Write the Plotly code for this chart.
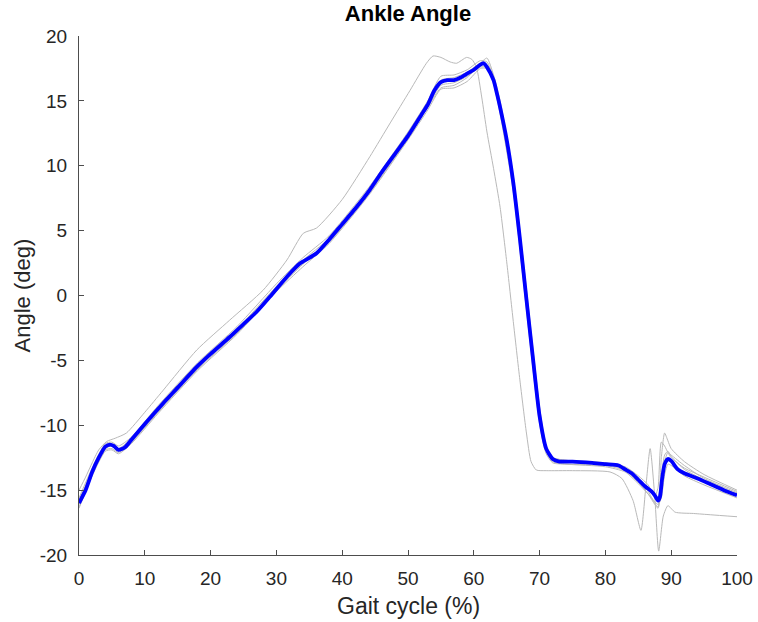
import plotly.graph_objects as go

# ---------------- data ----------------
# mean ankle angle (blue)
mean_x = [0, 1, 2, 3, 4, 4.7, 5.3, 6, 7, 8, 10, 12.8, 15, 17.9, 20, 22.9, 25, 27, 29, 31.6,
          33.6, 35, 36.1, 38, 40, 42, 44, 46, 48, 50, 52, 53, 54, 55, 56, 57, 58, 59, 60, 61,
          61.5, 62, 63, 63.5, 64, 65, 66, 67, 68, 69, 70, 71, 72, 73, 75, 78, 80, 82, 83, 84,
          85, 86, 87, 87.5, 88, 88.3, 88.6, 89, 89.5, 90, 91, 92, 94, 96, 98, 100]
mean_y = [-16.0, -15.0, -13.6, -12.5, -11.65, -11.5, -11.6, -11.9, -11.7, -11.1, -9.9, -8.3, -7.1, -5.5, -4.5, -3.2, -2.2, -1.25, -0.1, 1.45,
          2.48, 2.9, 3.25, 4.3, 5.5, 6.7, 8.0, 9.5, 10.9, 12.3, 13.9, 14.7, 15.8, 16.45, 16.6, 16.6, 16.8, 17.1, 17.4, 17.8,
          17.9, 17.6, 16.6, 15.6, 14.5, 12.0, 8.7, 4.4, -0.3, -4.9, -9.3, -11.8, -12.6, -12.8, -12.8, -12.9, -13.0, -13.1, -13.4, -13.7,
          -14.2, -14.7, -15.1, -15.4, -15.8, -15.5, -14.2, -13.0, -12.6, -12.75, -13.4, -13.7, -14.1, -14.55, -15.0, -15.4]

# early (outlier) trial
trial_a_x = [0, 1, 2, 3, 4.2, 5.5, 7.2, 10, 12.8, 17.9, 22.9, 28, 31.6, 34.1, 36.1, 40, 44.2, 47.3, 50.3, 52.8,
             53.8, 55, 56.4, 57.4, 58.9, 59.7, 60.4, 61.2, 62, 63, 64, 65, 66, 67, 68, 68.7, 69.5, 71, 75, 80.7,
             82.5, 84.2, 85.4, 86.1, 86.8, 87.5, 88.1, 88.8, 89.5, 90.6, 93.4, 96, 100]
trial_a_y = [-15.0, -14.0, -12.9, -11.9, -11.25, -11.0, -10.6, -9.0, -7.3, -4.2, -1.9, 0.42, 2.74, 4.8, 5.2, 7.4, 10.7, 13.3, 15.8, 17.9,
             18.46, 18.35, 18.0, 17.9, 18.35, 18.2, 17.6, 15.3, 12.6, 9.8, 6.8, 2.6, -2.0, -6.5, -10.6, -12.8, -13.45, -13.5, -13.5, -13.6,
             -14.1, -15.8, -18.1, -15.0, -11.8, -15.5, -19.7, -17.0, -16.2, -16.7, -16.8, -16.9, -17.05]

# other trials (close to the mean)
trials_x = [0, 2, 4, 5, 6, 8, 12, 18, 24, 30, 34, 38, 44, 50, 53, 55, 57, 59, 61, 62,
            63, 64, 66, 68, 70, 71, 72, 74, 80, 83, 85, 86.5, 87.5, 88, 88.5, 89, 89.5, 90, 92, 95, 100]
trial_b_y = [-15.6, -13.3, -11.4, -11.3, -11.6, -10.9, -8.5, -5.2, -2.4, 0.9, 2.9, 4.6, 8.3, 12.6, 15.0, 16.9, 17.0, 17.4, 18.1, 18.0,
             16.8, 14.8, 9.0, 0.1, -8.9, -11.7, -12.5, -12.7, -12.9, -13.3, -14.1, -15.1, -16.0, -16.3, -12.5, -10.6, -11.2, -11.8, -12.8, -13.8, -15.0]
trial_c_y = [-16.3, -13.8, -11.9, -11.8, -12.1, -11.3, -9.0, -5.7, -2.9, 0.4, 2.4, 4.1, 7.8, 12.1, 14.5, 16.0, 16.2, 16.8, 17.9, 18.3,
             17.0, 15.0, 9.2, 0.5, -8.6, -11.6, -12.5, -12.7, -12.9, -13.2, -13.9, -14.6, -15.5, -14.8, -11.3, -11.6, -12.1, -12.5, -13.3, -14.0, -15.1]
trial_d_y = [-16.1, -13.7, -11.8, -11.6, -12.0, -11.2, -8.9, -5.6, -2.8, 0.5, 2.5, 4.2, 7.9, 12.2, 14.6, 16.2, 16.4, 16.9, 17.6, 17.6,
             16.4, 14.2, 8.3, -0.8, -9.6, -12.0, -12.8, -13.0, -13.1, -13.5, -14.4, -15.3, -16.1, -16.4, -15.0, -12.8, -12.1, -12.3, -13.1, -14.1, -15.2]
trial_e_y = [-16.4, -13.9, -12.0, -11.9, -12.2, -11.4, -9.1, -5.8, -3.0, 0.3, 2.2, 4.0, 7.7, 12.0, 14.3, 15.9, 16.0, 16.5, 17.5, 17.5,
             16.3, 14.0, 8.0, -1.1, -9.9, -12.2, -12.9, -13.0, -13.2, -13.6, -14.5, -15.3, -15.9, -16.1, -15.6, -13.8, -13.0, -13.1, -13.9, -14.6, -15.6]
trial_f_y = [-15.8, -13.5, -11.6, -11.5, -11.8, -11.0, -8.6, -5.3, -2.6, 0.7, 2.7, 4.4, 8.1, 12.4, 14.9, 16.6, 16.8, 17.2, 17.9, 17.8,
             16.7, 14.7, 8.9, -0.1, -9.0, -11.7, -12.6, -12.8, -13.0, -13.4, -14.2, -14.8, -15.3, -15.6, -14.0, -12.3, -12.0, -12.4, -13.4, -14.2, -15.3]

x_ticks = [0, 10, 20, 30, 40, 50, 60, 70, 80, 90, 100]
y_ticks = [-20, -15, -10, -5, 0, 5, 10, 15, 20]
x_tick_text = ["0", "10", "20", "30", "40", "50", "60", "70", "80", "90", "100"]
y_tick_text = ["-20", "-15", "-10", "-5", "0", "5", "10", "15", "20"]

# ---------------- figure ----------------
GRAY = "rgb(185,185,185)"
BLUE = "rgb(0,0,255)"
FONT = "Liberation Sans, Arial, Helvetica, sans-serif"
AX = "#4d4d4d"
TXT = "#262626"

W, H = 758, 622
ML, MR, MT, MB = 79, 21, 36, 67
PW, PH = W - ML - MR, H - MT - MB

fig = go.Figure()
fig.add_trace(go.Scatter(x=trial_a_x, y=trial_a_y, mode="lines",
                         line=dict(color=GRAY, width=1, shape="spline", smoothing=0.6),
                         hoverinfo="skip", showlegend=False))
for ys in [trial_b_y, trial_c_y, trial_d_y, trial_e_y, trial_f_y]:
    fig.add_trace(go.Scatter(x=trials_x, y=ys, mode="lines",
                             line=dict(color=GRAY, width=1, shape="spline", smoothing=0.6),
                             hoverinfo="skip", showlegend=False))
fig.add_trace(go.Scatter(x=mean_x, y=mean_y, mode="lines",
                         line=dict(color=BLUE, width=3.8, shape="spline", smoothing=0.6),
                         showlegend=False))

fig.update_layout(
    width=W, height=H,
    margin=dict(l=ML, r=MR, t=MT, b=MB, autoexpand=False),
    paper_bgcolor="white", plot_bgcolor="white",
    font=dict(family=FONT, color=TXT),
    title=dict(text="<b>Ankle Angle</b>", x=(ML + PW / 2) / W, xanchor="center",
               y=1 - 13 / H, yanchor="middle", yref="container",
               font=dict(size=22, family=FONT, color="#000000")),
    annotations=[
        dict(text="Gait cycle (%)", xref="paper", yref="paper", x=0.5, y=-(606 - (MT + PH)) / PH,
             xanchor="center", yanchor="middle", showarrow=False,
             font=dict(size=23, family=FONT, color=TXT)),
        dict(text="Angle (deg)", xref="paper", yref="paper", x=-(ML - 22) / PW, y=0.5,
             xanchor="center", yanchor="middle", showarrow=False, textangle=-90,
             font=dict(size=22, family=FONT, color=TXT)),
    ],
)
fig.update_xaxes(range=[0, 100], tickvals=x_ticks, ticktext=x_tick_text, ticks="inside", ticklen=5, tickcolor=AX,
                 showline=True, linecolor=AX, linewidth=1, showgrid=False, zeroline=False, automargin=False,
                 tickfont=dict(size=19, family=FONT, color=TXT), ticklabelstandoff=6)
fig.update_yaxes(range=[-20, 20], tickvals=y_ticks, ticktext=y_tick_text, ticks="inside", ticklen=5, tickcolor=AX,
                 showline=True, linecolor=AX, linewidth=1, showgrid=False, zeroline=False, automargin=False,
                 tickfont=dict(size=19, family=FONT, color=TXT), ticklabelstandoff=7)

fig.write_html("out.html")
